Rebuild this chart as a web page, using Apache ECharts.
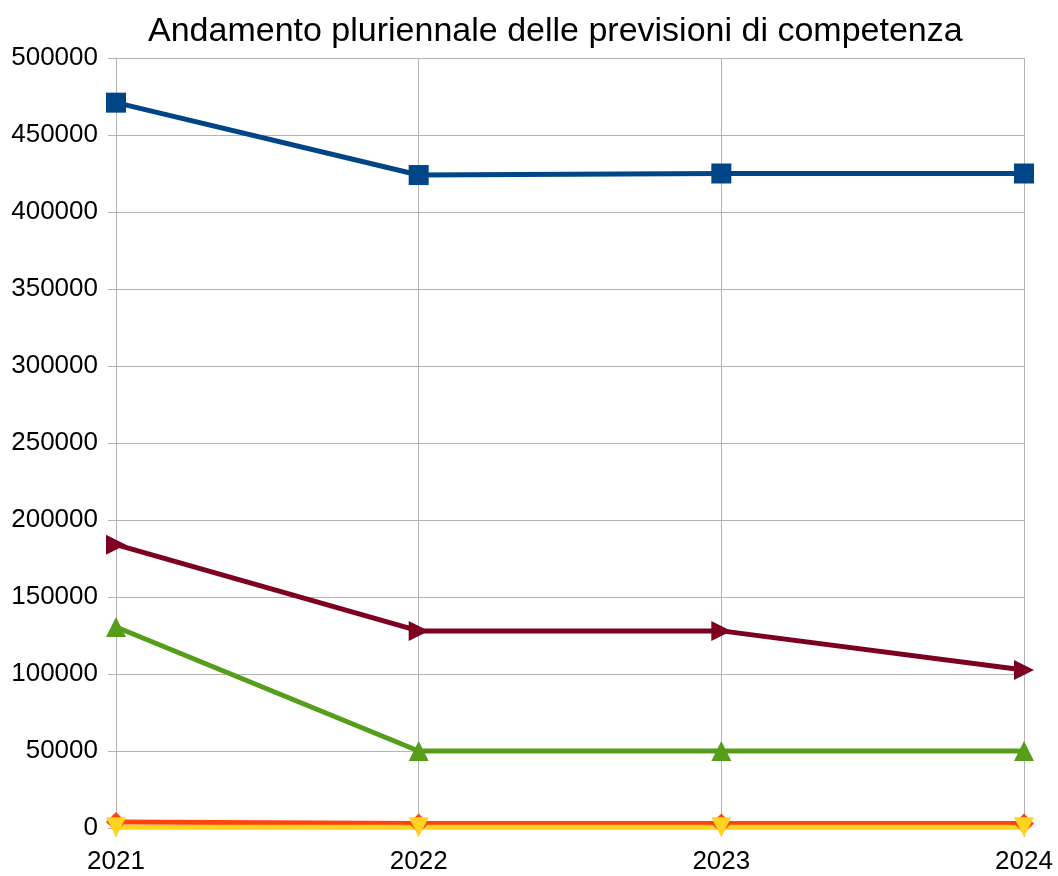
<!DOCTYPE html>
<html lang="it">
<head>
    <meta charset="UTF-8">
    <title>Andamento pluriennale delle previsioni di competenza</title>
    <script src="https://cdn.jsdelivr.net/npm/echarts@6/dist/echarts.min.js"></script>
    <style>
        html,body{margin:0;padding:0;background:#fff}
        #main{width:1058px;height:876px}
    </style>
</head>
<body>
<div id="main"></div>
<script>
    var anni = ['2021', '2022', '2023', '2024'];
    // valori
    var serie1 = [471000, 424000, 425000, 425000];
    var serie2 = [3900, 3000, 3000, 3000];
    var serie3 = [500, 500, 500, 500];
    var serie4 = [130500, 50000, 50000, 50000];
    var serie5 = [184000, 128000, 128000, 102600];

    var colori = ['#004586', '#ff420e', '#ffd320', '#579d1c', '#7e0021'];
    var simboli = [
        'rect',
        'diamond',
        'path://M0,0 L10,0 L5,10 Z',
        'triangle',
        'path://M0,0 L10,5 L0,10 Z'
    ];
    var dati = [serie1, serie2, serie3, serie4, serie5];

    var series = [];
    for (var i = 0; i < dati.length; i++) {
        series.push({
            type: 'line',
            data: dati[i],
            symbol: simboli[i],
            symbolSize: 20,
            showAllSymbol: true,
            itemStyle: {color: colori[i]},
            lineStyle: {color: colori[i], width: 5},
            animation: false
        });
    }

    var myChart = echarts.init(document.getElementById('main'));
    myChart.setOption({
        backgroundColor: '#ffffff',
        title: {
            text: 'Andamento pluriennale delle previsioni di competenza',
            left: 143,
            top: 10,
            textStyle: {fontFamily: 'Liberation Sans', fontSize: 34, fontWeight: 'normal', color: '#000'}
        },
        grid: {left: 116, right: 34, top: 58, bottom: 48},
        xAxis: {
            type: 'category',
            data: anni,
            boundaryGap: false,
            axisLine: {lineStyle: {color: '#b3b3b3', width: 1}},
            axisTick: {show: true, length: 9, alignWithLabel: true, lineStyle: {color: '#b3b3b3'}},
            axisLabel: {fontFamily: 'Liberation Sans', fontSize: 26, color: '#000', margin: 21},
            splitLine: {show: true, lineStyle: {color: '#b3b3b3', width: 1}}
        },
        yAxis: {
            type: 'value',
            min: 0,
            max: 500000,
            interval: 50000,
            axisLine: {show: true, lineStyle: {color: '#b3b3b3', width: 1}},
            axisTick: {show: true, length: 8, lineStyle: {color: '#b3b3b3'}},
            axisLabel: {
                fontFamily: 'Liberation Sans', fontSize: 26, color: '#000', margin: 18,
                formatter: function (v) { return String(v); }
            },
            splitLine: {show: true, lineStyle: {color: '#b3b3b3', width: 1}}
        },
        series: series
    });
</script>
</body>
</html>
